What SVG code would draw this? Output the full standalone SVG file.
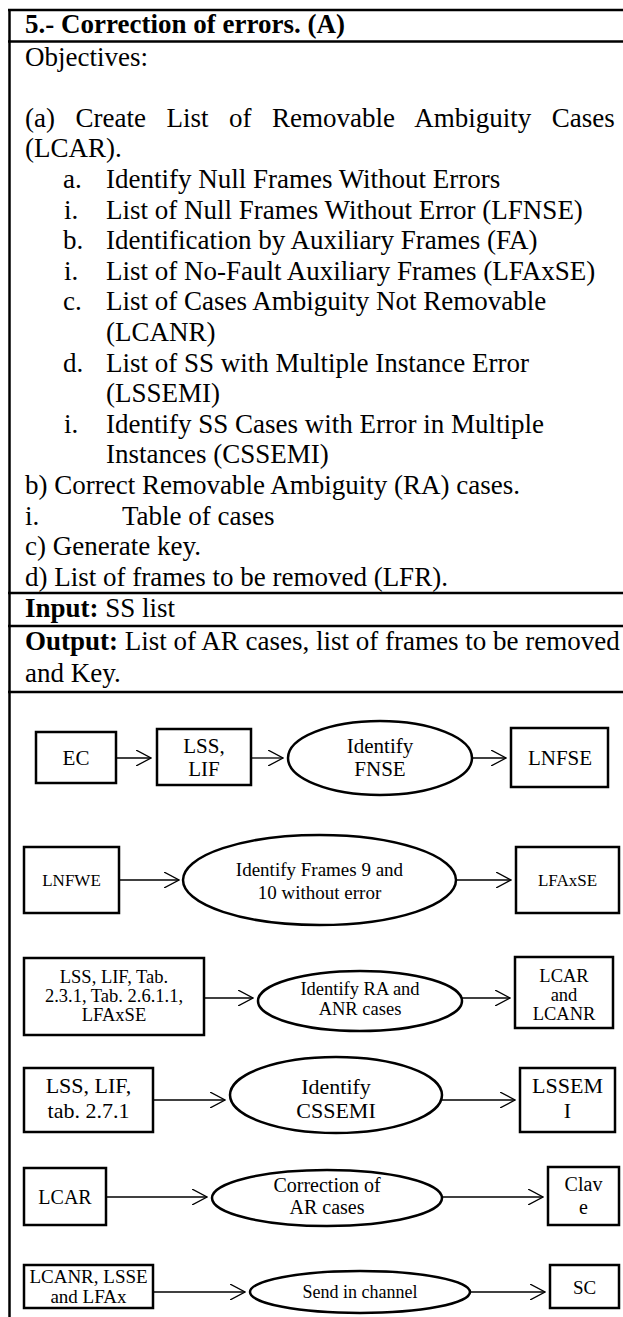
<svg xmlns="http://www.w3.org/2000/svg" width="623" height="1317" viewBox="0 0 623 1317">
<defs>
<marker id="ah" viewBox="0 0 16 16" refX="15" refY="8" markerWidth="16" markerHeight="16" markerUnits="userSpaceOnUse" orient="auto">
<path d="M0,0 L15,8 L0,16" fill="none" stroke="#000" stroke-width="1.3"/>
</marker>
<style>
.t{font-family:"Liberation Serif","Times New Roman",serif;font-size:27px;fill:#000}
.b{font-weight:bold}
.n{fill:#fff;stroke:#000;stroke-width:2.5}
.g{stroke:#000;stroke-width:2.5;fill:none}
.c{stroke:#000;stroke-width:1.3;fill:none;marker-end:url(#ah)}
.d{font-family:"Liberation Serif","Times New Roman",serif;fill:#000;text-anchor:middle}
</style>
</defs>
<rect width="623" height="1317" fill="#fff"/>
<g id="table">
<line class="g" x1="9.5" y1="10" x2="9.5" y2="1317"/>
<line class="g" x1="8" y1="10" x2="623" y2="10"/>
<line class="g" x1="8" y1="41.5" x2="623" y2="41.5"/>
<line class="g" x1="8" y1="593" x2="623" y2="593"/>
<line class="g" x1="8" y1="626" x2="623" y2="626"/>
<line class="g" x1="8" y1="692" x2="623" y2="692"/>
</g>
<g id="text">
<text class="t b" x="25" y="33">5.- Correction of errors. (A)</text>
<text class="t" x="25" y="65.5">Objectives:</text>
<text class="t" x="25" y="126.7" word-spacing="13.8">(a) Create List of Removable Ambiguity Cases</text>
<text class="t" x="25" y="157.3">(LCAR).</text>
<text class="t" x="63" y="187.9">a.</text><text class="t" x="106" y="187.9">Identify Null Frames Without Errors</text>
<text class="t" x="64" y="218.5">i.</text><text class="t" x="106" y="218.5">List of Null Frames Without Error (LFNSE)</text>
<text class="t" x="63" y="249.1">b.</text><text class="t" x="106" y="249.1">Identification by Auxiliary Frames (FA)</text>
<text class="t" x="64" y="279.7">i.</text><text class="t" x="106" y="279.7">List of No-Fault Auxiliary Frames (LFAxSE)</text>
<text class="t" x="63" y="310.3">c.</text><text class="t" x="106" y="310.3">List of Cases Ambiguity Not Removable</text>
<text class="t" x="106" y="340.9">(LCANR)</text>
<text class="t" x="63" y="371.5">d.</text><text class="t" x="106" y="371.5">List of SS with Multiple Instance Error</text>
<text class="t" x="106" y="402.1">(LSSEMI)</text>
<text class="t" x="64" y="432.7">i.</text><text class="t" x="106" y="432.7">Identify SS Cases with Error in Multiple</text>
<text class="t" x="106" y="463.3">Instances (CSSEMI)</text>
<text class="t" x="25" y="493.9">b) Correct Removable Ambiguity (RA) cases.</text>
<text class="t" x="25" y="524.5">i.</text><text class="t" x="122" y="524.5">Table of cases</text>
<text class="t" x="25" y="555.1">c) Generate key.</text>
<text class="t" x="25" y="585.7">d) List of frames to be removed (LFR).</text>
<text class="t" x="25" y="617"><tspan class="b">Input:</tspan> SS list</text>
<text class="t" x="25" y="650"><tspan class="b">Output:</tspan> List of AR cases, list of frames to be removed</text>
<text class="t" x="25" y="682">and Key.</text>
</g>
<g id="connectors">
<line class="c" x1="116" y1="758" x2="151" y2="758"/>
<line class="c" x1="251" y1="758" x2="283" y2="758"/>
<line class="c" x1="473" y1="758" x2="506" y2="758"/>
<line class="c" x1="119" y1="880" x2="179" y2="880"/>
<line class="c" x1="456" y1="880" x2="511" y2="880"/>
<line class="c" x1="204" y1="998" x2="253" y2="998"/>
<line class="c" x1="462" y1="998" x2="510" y2="998"/>
<line class="c" x1="153" y1="1100" x2="225" y2="1100"/>
<line class="c" x1="442" y1="1100" x2="515" y2="1100"/>
<line class="c" x1="106" y1="1197" x2="207" y2="1197"/>
<line class="c" x1="442" y1="1197" x2="543" y2="1197"/>
<line class="c" x1="153" y1="1292" x2="245" y2="1292"/>
<line class="c" x1="470" y1="1292" x2="545" y2="1292"/>
</g>
<g id="n-ec"><rect class="n" x="36" y="732" width="80" height="51"/><text class="d" x="76" y="765" font-size="21">EC</text></g>
<g id="n-lsslif"><rect class="n" x="157" y="729" width="94" height="56"/><text class="d" x="204" y="753" font-size="21">LSS,</text><text class="d" x="204" y="776" font-size="21">LIF</text></g>
<g id="n-fnse"><ellipse class="n" cx="380" cy="758" rx="92" ry="37"/><text class="d" x="380" y="753" font-size="21">Identify</text><text class="d" x="380" y="776" font-size="21">FNSE</text></g>
<g id="n-lnfse"><rect class="n" x="511" y="728" width="97" height="59"/><text class="d" x="560" y="765" font-size="21">LNFSE</text></g>
<g id="n-lnfwe"><rect class="n" x="24" y="847" width="95" height="66"/><text class="d" x="71.5" y="886" font-size="17">LNFWE</text></g>
<g id="n-frames"><ellipse class="n" cx="319.5" cy="880" rx="136.5" ry="45"/><text class="d" x="319.5" y="876" font-size="19">Identify Frames 9 and</text><text class="d" x="319.5" y="899" font-size="19">10 without error</text></g>
<g id="n-lfaxse"><rect class="n" x="516" y="847" width="103" height="66"/><text class="d" x="567.5" y="886" font-size="17">LFAxSE</text></g>
<g id="n-tabs"><rect class="n" x="24" y="958" width="180" height="77"/><text class="d" x="114" y="983" font-size="18.5">LSS, LIF, Tab.</text><text class="d" x="114" y="1002" font-size="18.5">2.3.1, Tab. 2.6.1.1,</text><text class="d" x="114" y="1021" font-size="18.5">LFAxSE</text></g>
<g id="n-ra"><ellipse class="n" cx="360" cy="1001" rx="102" ry="30"/><text class="d" x="360" y="995" font-size="18.5">Identify RA and</text><text class="d" x="360" y="1015" font-size="18.5">ANR cases</text></g>
<g id="n-lcar1"><rect class="n" x="515" y="957" width="98" height="71"/><text class="d" x="564" y="982" font-size="18.5">LCAR</text><text class="d" x="564" y="1001" font-size="18.5">and</text><text class="d" x="564" y="1020" font-size="18.5">LCANR</text></g>
<g id="n-tab271"><rect class="n" x="24" y="1068" width="129" height="64"/><text class="d" x="88.5" y="1093" font-size="22">LSS, LIF,</text><text class="d" x="88.5" y="1118" font-size="22">tab. 2.7.1</text></g>
<g id="n-cssemi"><ellipse class="n" cx="336" cy="1095" rx="106" ry="38"/><text class="d" x="336" y="1094" font-size="22">Identify</text><text class="d" x="336" y="1118" font-size="22">CSSEMI</text></g>
<g id="n-lssemi"><rect class="n" x="520" y="1068" width="95" height="64"/><text class="d" x="567.5" y="1093" font-size="22">LSSEM</text><text class="d" x="567.5" y="1118" font-size="22">I</text></g>
<g id="n-lcar2"><rect class="n" x="24" y="1168" width="82" height="57"/><text class="d" x="65" y="1204" font-size="20">LCAR</text></g>
<g id="n-corr"><ellipse class="n" cx="327" cy="1198" rx="115" ry="28"/><text class="d" x="327" y="1192" font-size="20">Correction of</text><text class="d" x="327" y="1214" font-size="20">AR cases</text></g>
<g id="n-clave"><rect class="n" x="548" y="1167" width="71" height="58"/><text class="d" x="583.5" y="1191" font-size="20">Clav</text><text class="d" x="583.5" y="1214" font-size="20">e</text></g>
<g id="n-lcanr"><rect class="n" x="24" y="1265" width="129" height="43"/><text class="d" x="88.5" y="1283" font-size="19">LCANR, LSSE</text><text class="d" x="88.5" y="1303" font-size="19">and LFAx</text></g>
<g id="n-send"><ellipse class="n" cx="360" cy="1292" rx="110" ry="21"/><text class="d" x="360" y="1298" font-size="18">Send in channel</text></g>
<g id="n-sc"><rect class="n" x="550" y="1265" width="69" height="43"/><text class="d" x="584.5" y="1294" font-size="19">SC</text></g>
</svg>
